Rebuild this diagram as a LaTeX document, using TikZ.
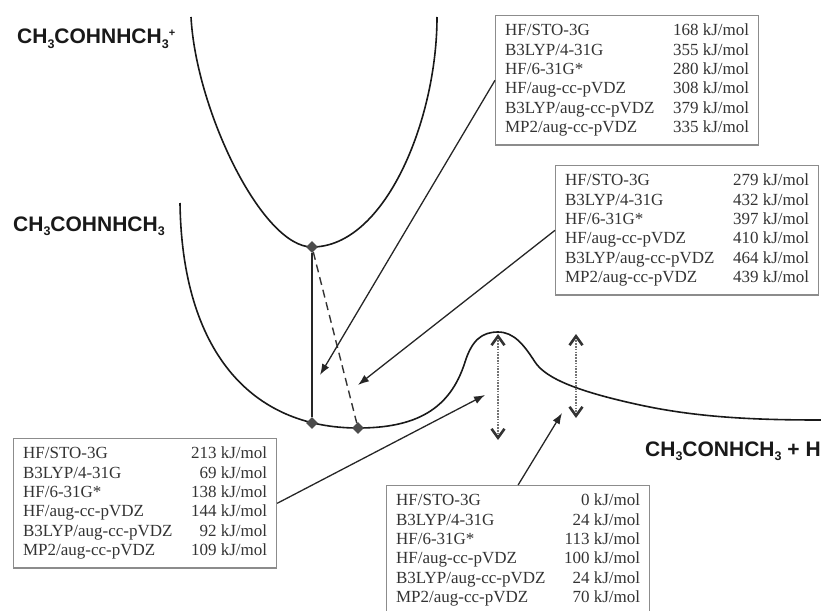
\documentclass[tikz,border=0pt]{standalone}
\usepackage{fontspec}
\setmainfont{Liberation Serif}
\newfontfamily\labfont{Liberation Sans}
\usetikzlibrary{arrows.meta,shapes.geometric}
\newcommand\sbt[1]{\raisebox{-0.45ex}{\fontsize{12.5}{12.5}\selectfont #1}}
\newcommand\valtab[1]{\begin{tabular*}{244pt}{@{}l@{\extracolsep{\fill}}r@{}}#1\end{tabular*}}
\begin{document}
\begin{tikzpicture}[x=1pt,y=-1pt,
  pescurve/.style={line width=1.6pt,black!90},
  databox/.style={draw=black!45,line width=1.2pt,anchor=north west,inner xsep=9.5pt,inner ysep=6.5pt,text=black!80,font=\fontsize{17}{19.4}\selectfont},
  pointer/.style={line width=1.3pt,black!85,-{Latex[length=11pt,width=8pt]}},
  ptmark/.style={diamond,fill=black!70,inner sep=0pt,minimum size=12pt},
  lab/.style={anchor=base west,inner sep=0pt,font=\labfont\bfseries\fontsize{21}{22}\selectfont,text=black!90},
  dbl/.style={{Straight Barb[length=9pt,width=13pt,color=black!80]}-{Straight Barb[length=9pt,width=13pt,color=black!80]},line width=2.6pt,black!55,dash pattern=on 1.6pt off 1.2pt}]
\useasboundingbox (0,0) rectangle (821,610);

% potential energy curves
\draw[pescurve] (191,17) .. controls (196,110) and (262,247) .. (312,247)
                .. controls (385,247) and (437,120) .. (437,17);
\draw[pescurve] (180,203) .. controls (182,350) and (250,428) .. (358,428)
                .. controls (415,428) and (450,410) .. (465,362)
                .. controls (472,340) and (482,332) .. (498,332)
                .. controls (514,332) and (524,345) .. (535,362)
                .. controls (546,379) and (580,392) .. (640,405)
                .. controls (700,418) and (760,420) .. (821,420);

% points
\node[ptmark] (d1) at (312,247) {};
\node[ptmark] (d2) at (312,423) {};
\node[ptmark] (d3) at (358,428) {};
\draw[line width=1.4pt,black!85] (d1) -- (d2);
\draw[line width=1.4pt,black!80,dash pattern=on 8pt off 5pt] (d1) -- (d3);

% labels
\node[lab] (l1) at (17,44) {CH\sbt{3}COHNHCH\sbt{3}\raisebox{0.7ex}{\fontsize{11}{11}\selectfont +}};
\node[lab] (l2) at (13,231) {CH\sbt{3}COHNHCH\sbt{3}};
\node[lab] (l3) at (645,456) {CH\sbt{3}CONHCH\sbt{3} + H};

% data boxes
\node[databox] (topbox) at (495,15) {\valtab{HF/STO-3G & 168 kJ/mol\\ B3LYP/4-31G & 355 kJ/mol\\ HF/6-31G* & 280 kJ/mol\\ HF/aug-cc-pVDZ & 308 kJ/mol\\ B3LYP/aug-cc-pVDZ & 379 kJ/mol\\ MP2/aug-cc-pVDZ & 335 kJ/mol}};
\node[databox] (midbox) at (555,165) {\valtab{HF/STO-3G & 279 kJ/mol\\ B3LYP/4-31G & 432 kJ/mol\\ HF/6-31G* & 397 kJ/mol\\ HF/aug-cc-pVDZ & 410 kJ/mol\\ B3LYP/aug-cc-pVDZ & 464 kJ/mol\\ MP2/aug-cc-pVDZ & 439 kJ/mol}};
\node[databox] (leftbox) at (13,438) {\valtab{HF/STO-3G & 213 kJ/mol\\ B3LYP/4-31G & 69 kJ/mol\\ HF/6-31G* & 138 kJ/mol\\ HF/aug-cc-pVDZ & 144 kJ/mol\\ B3LYP/aug-cc-pVDZ & 92 kJ/mol\\ MP2/aug-cc-pVDZ & 109 kJ/mol}};
\node[databox] (botbox) at (386,485) {\valtab{HF/STO-3G & 0 kJ/mol\\ B3LYP/4-31G & 24 kJ/mol\\ HF/6-31G* & 113 kJ/mol\\ HF/aug-cc-pVDZ & 100 kJ/mol\\ B3LYP/aug-cc-pVDZ & 24 kJ/mol\\ MP2/aug-cc-pVDZ & 70 kJ/mol}};

% pointers
\coordinate (t1) at (320,375);
\coordinate (t2) at (358,385);
\coordinate (t3) at (485,395);
\coordinate (t4) at (562,413);
\draw[pointer] (topbox.west) -- (t1);
\draw[pointer] (midbox.west) -- (t2);
\draw[pointer] (leftbox.east) -- (t3);
\draw[pointer] (botbox.north) -- (t4);

% dotted double arrows
\coordinate (a1) at (498,334);
\coordinate (b1) at (498,440);
\coordinate (a2) at (576,334);
\coordinate (b2) at (576,418);
\draw[dbl] (a1) -- (b1);
\draw[dbl] (a2) -- (b2);
\end{tikzpicture}
\end{document}
